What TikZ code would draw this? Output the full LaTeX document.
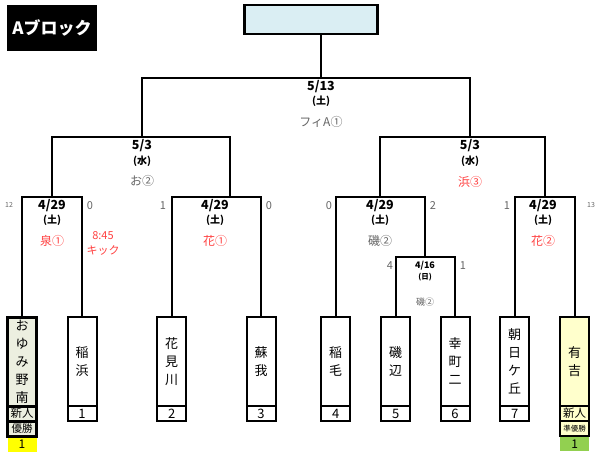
\documentclass[tikz,border=0pt]{standalone}
\usepackage{fontspec}
\setmainfont{Noto Sans CJK JP}
\definecolor{topblue}{HTML}{DAEEF3}
\definecolor{winfill}{HTML}{ECEFE0}
\definecolor{runfill}{HTML}{FFFFCC}
\definecolor{goldcell}{HTML}{FFFF00}
\definecolor{greencell}{HTML}{92D050}
\definecolor{redtxt}{HTML}{FF4040}
\definecolor{graytxt}{HTML}{666666}
\begin{document}
\begin{tikzpicture}[x=1pt,y=-1pt,
  every node/.style={outer sep=0pt},
  bline/.style={line width=2pt},
  team/.style={draw, line width=2pt, minimum width=29pt, minimum height=89pt, inner sep=0pt, anchor=north, align=center, font=\fontsize{13}{18}\selectfont},
  numbox/.style={draw, line width=2pt, minimum width=29pt, minimum height=15pt, inner sep=0pt, anchor=north, font=\fontsize{13}{13}\selectfont},
  cell/.style={minimum width=29pt, minimum height=15pt, inner sep=0pt, anchor=north, font=\fontsize{12}{12}\selectfont},
  datel/.style={font=\bfseries\fontsize{12.5}{12.5}\selectfont},
  dowl/.style={font=\bfseries\fontsize{10}{10}\selectfont},
  venue/.style={font=\fontsize{12}{12}\selectfont},
  score/.style={text=graytxt, font=\fontsize{11}{11}\selectfont},
  smallscore/.style={text=graytxt, font=\fontsize{7}{7}\selectfont}]
\useasboundingbox (0,0) rectangle (601,453);

% title
\node[fill=black, minimum width=90pt, minimum height=46pt, inner sep=0pt, text=white, font=\bfseries\fontsize{17}{17}\selectfont] (title) at (52,28) {Aブロック};
% top box
\node[draw, fill=topblue, line width=2.5pt, minimum width=133pt, minimum height=29pt, inner sep=0pt] (top) at (311,19.5) {};

% teams
\node[team, fill=winfill, line width=3pt] (t1) at (22,317) {お\\ゆ\\み\\野\\南};
\node[team] (t2) at (82,317) {稲\\浜};
\node[team] (t3) at (171.7,317) {花\\見\\川};
\node[team] (t4) at (261,317) {蘇\\我};
\node[team] (t5) at (335.7,317) {稲\\毛};
\node[team] (t6) at (395.7,317) {磯\\辺};
\node[team] (t7) at (455,317) {幸\\町\\二};
\node[team] (t8) at (514.7,317) {朝\\日\\ケ\\丘};
\node[team, fill=runfill] (t9) at (574.7,317) {有\\吉};

% number rows
\node[numbox, fill=winfill, line width=3pt, font=\fontsize{11.5}{11.5}\selectfont] (n1) at (22,406) {新人};
\node[numbox, fill=winfill, line width=3pt, font=\fontsize{10.5}{10.5}\selectfont] (n1b) at (22,421) {優勝};
\node[cell, fill=goldcell, minimum height=14pt] (n1c) at (22,437.5) {1};
\node[numbox] (n2) at (82,406) {1};
\node[numbox] (n3) at (171.7,406) {2};
\node[numbox] (n4) at (261,406) {3};
\node[numbox] (n5) at (335.7,406) {4};
\node[numbox] (n6) at (395.7,406) {5};
\node[numbox] (n7) at (455,406) {6};
\node[numbox] (n8) at (514.7,406) {7};
\node[numbox, fill=runfill, font=\fontsize{11.5}{11.5}\selectfont] (n9) at (574.7,406) {新人};
\node[numbox, fill=runfill, font=\fontsize{7.5}{7.5}\selectfont] (n9b) at (574.7,421) {準優勝};
\node[cell, fill=greencell, minimum height=14pt] (n9c) at (574.7,437) {1};

% bracket coordinates
\coordinate (m1) at (52,197);
\coordinate (m2) at (230,197);
\coordinate (m3) at (380,197);
\coordinate (m4) at (425,257);
\coordinate (m5) at (545,197);
\coordinate (s1) at (142,137);
\coordinate (s2) at (470,137);
\coordinate (f) at (321,78);

\draw[bline, line width=2.6pt] (t1.north) |- (m1);
\draw[bline] (m1) -| (t2.north);
\draw[bline] (t3.north) |- (m2) -| (t4.north);
\draw[bline] (t5.north) |- (m3) -| (m4);
\draw[bline] (t6.north) |- (m4) -| (t7.north);
\draw[bline] (t8.north) |- (m5) -| (t9.north);
\draw[bline] (m1) |- (s1) -| (m2);
\draw[bline] (m3) |- (s2) -| (m5);
\draw[bline] (s1) |- (f) -| (s2);
\draw[bline] (f) -- (f |- top.south);

% final
\node[datel] (d0) at (321,87) {5/13};
\node[dowl] (w0) at (321,101) {(土)};
\node[venue, text=graytxt] (v0) at (321,122) {フィA①};
% semis
\node[datel] (d1) at (142,146) {5/3};
\node[dowl] (w1) at (142,161) {(水)};
\node[venue, text=graytxt] (v1) at (142,181) {お②};
\node[datel] (d2) at (470,146) {5/3};
\node[dowl] (w2) at (470,161) {(水)};
\node[venue, text=redtxt] (v2) at (470,182) {浜③};
% quarter
\node[datel] (d3) at (52,206) {4/29};
\node[dowl] (w3) at (52,220) {(土)};
\node[venue, text=redtxt] (v3) at (52,241) {泉①};
\node[datel] (d4) at (215,206) {4/29};
\node[dowl] (w4) at (215,220) {(土)};
\node[venue, text=redtxt] (v4) at (215,241) {花①};
\node[datel] (d5) at (380,206) {4/29};
\node[dowl] (w5) at (380,220) {(土)};
\node[venue, text=graytxt] (v5) at (380,241) {磯②};
\node[datel] (d6) at (543,206) {4/29};
\node[dowl] (w6) at (543,220) {(土)};
\node[venue, text=redtxt] (v6) at (543,241) {花②};
% 4/16
\node[font=\bfseries\fontsize{9}{9}\selectfont] (d7) at (425,266) {4/16};
\node[font=\bfseries\fontsize{7.5}{7.5}\selectfont] (w7) at (425,277) {(日)};
\node[text=graytxt, font=\fontsize{9}{9}\selectfont] (v7) at (425,302) {磯②};

% kick-off note
\node[text=redtxt, font=\fontsize{11}{11}\selectfont] (k1) at (103,236) {8:45};
\node[text=redtxt, font=\fontsize{11}{11}\selectfont] (k2) at (103,250) {キック};

% scores
\node[smallscore] (sc1) at (9,205) {12};
\node[score] (sc2) at (90,206) {0};
\node[score] (sc3) at (163,206) {1};
\node[score] (sc4) at (269,206) {0};
\node[score] (sc5) at (329,206) {0};
\node[score] (sc6) at (433,206) {2};
\node[score] (sc7) at (507,206) {1};
\node[smallscore] (sc8) at (591,205) {13};
\node[score] (sc9) at (390,266) {4};
\node[score] (sc10) at (463,266) {1};
\end{tikzpicture}
\end{document}
